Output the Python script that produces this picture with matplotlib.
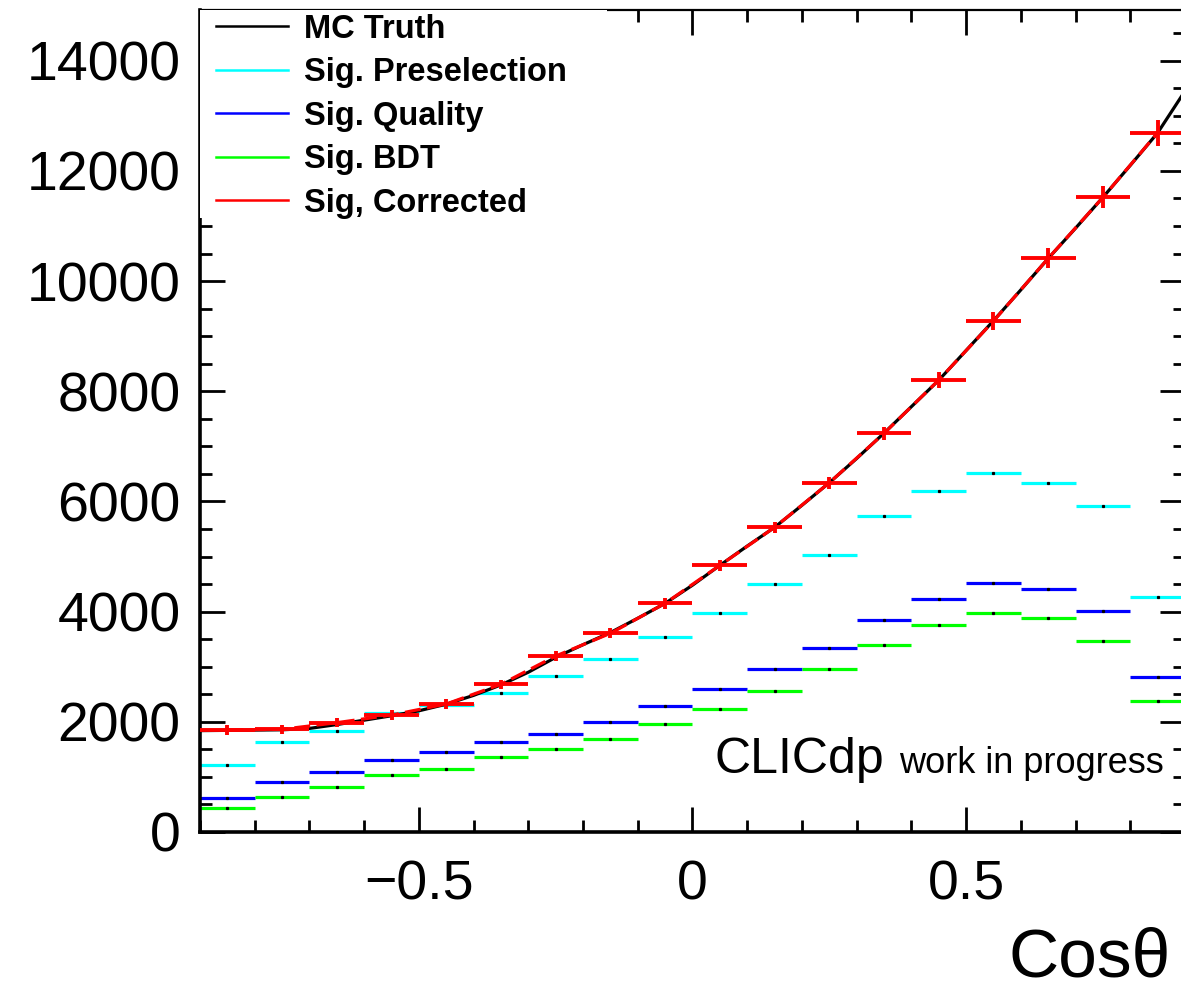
import matplotlib; matplotlib.use("Agg")
import matplotlib.pyplot as plt
from matplotlib.lines import Line2D
from matplotlib.patches import Rectangle
from matplotlib.ticker import MultipleLocator, FixedLocator, FixedFormatter

plt.rcParams["font.family"] = ["Liberation Sans", "DejaVu Sans"]

# cos(theta) binning: 18 bins of width 0.1 between -0.9 and 0.9
bin_lo = [-0.9, -0.8, -0.7, -0.6, -0.5, -0.4, -0.3, -0.2, -0.1,
          0.0, 0.1, 0.2, 0.3, 0.4, 0.5, 0.6, 0.7, 0.8]
bin_hi = [-0.8, -0.7, -0.6, -0.5, -0.4, -0.3, -0.2, -0.1, 0.0,
          0.1, 0.2, 0.3, 0.4, 0.5, 0.6, 0.7, 0.8, 0.9]
bin_mid = [-0.85, -0.75, -0.65, -0.55, -0.45, -0.35, -0.25, -0.15, -0.05,
           0.05, 0.15, 0.25, 0.35, 0.45, 0.55, 0.65, 0.75, 0.85]

sig_presel = [1216, 1633, 1838, 2154, 2310, 2528, 2831, 3134, 3544,
              3969, 4507, 5022, 5735, 6189, 6515, 6340, 5917, 4265]
sig_quality = [617, 913, 1094, 1307, 1457, 1633, 1784, 1996, 2292,
               2590, 2953, 3339, 3848, 4235, 4513, 4416, 4005, 2807]
sig_bdt = [436, 641, 822, 1034, 1149, 1361, 1506, 1688, 1966,
           2232, 2559, 2953, 3400, 3757, 3980, 3878, 3461, 2377]
sig_corrected = [1851, 1864, 1984, 2123, 2323, 2681, 3194, 3606, 4151,
                 4840, 5530, 6339, 7236, 8203, 9274, 10412, 11519, 12691]
sig_corrected_err = [90, 85, 85, 85, 85, 85, 90, 90, 95,
                     95, 100, 110, 120, 150, 160, 180, 200, 240]

# MC truth, fine sampling in steps of 0.05
truth_x = [-0.9, -0.85, -0.8, -0.75, -0.7, -0.65, -0.6, -0.55, -0.5, -0.45,
           -0.4, -0.35, -0.3, -0.25, -0.2, -0.15, -0.1, -0.05, 0.0, 0.05,
           0.1, 0.15, 0.2, 0.25, 0.3, 0.35, 0.4, 0.45, 0.5, 0.55,
           0.6, 0.65, 0.7, 0.75, 0.8, 0.85, 0.9]
truth_y = [1840, 1845, 1850, 1855, 1880, 1950, 2030, 2110, 2200, 2320,
           2480, 2670, 2900, 3170, 3400, 3620, 3880, 4150, 4480, 4840,
           5190, 5530, 5930, 6340, 6780, 7240, 7720, 8200, 8740, 9280,
           9840, 10410, 10960, 11520, 12100, 12690, 13450]

CYAN = "#00ffff"; BLUE = "#0000ff"; GREEN = "#00ff00"; RED = "#ff0000"

fig = plt.figure(figsize=(11.81, 9.93), dpi=100)
ax = fig.add_axes([200/1181, 161/993, 985/1181, 822/993])

for vals, col in [(sig_presel, CYAN), (sig_quality, BLUE), (sig_bdt, GREEN)]:
    ax.hlines(vals, bin_lo, bin_hi, colors=col, lw=2.3, zorder=2)
    ax.plot(bin_mid, vals, ls="none", marker="s", ms=1.3, color="black", zorder=3)

ax.plot(truth_x, truth_y, color="black", lw=2.3, zorder=4)
ax.plot(bin_mid, sig_corrected, color=RED, lw=2.3, ls=(0, (5, 2)), zorder=5)
ax.errorbar(bin_mid, sig_corrected, yerr=sig_corrected_err, xerr=0.05,
            fmt="none", ecolor=RED, elinewidth=2.8, capsize=0, zorder=6)

ax.set_xlim(-0.9, 0.9)
ax.set_ylim(0, 14920)
ax.xaxis.set_major_locator(FixedLocator([-0.5, 0, 0.5]))
ax.xaxis.set_major_formatter(FixedFormatter(["\u22120.5", "0", "0.5"]))
ax.xaxis.set_minor_locator(MultipleLocator(0.1))
ax.yaxis.set_major_locator(MultipleLocator(2000))
ax.yaxis.set_minor_locator(MultipleLocator(500))
ax.tick_params(which="both", direction="in", top=True, right=True, width=2.0)
ax.tick_params(which="major", length=18, labelsize=40)
ax.tick_params(which="minor", length=8.5)
ax.tick_params(axis="x", which="major", pad=20)
ax.tick_params(axis="y", which="major", pad=14)
for side in ["left", "bottom"]:
    ax.spines[side].set_linewidth(2.6)
for side in ["top", "right"]:
    ax.spines[side].set_linewidth(1.6)

ax.set_xlabel("Cos\u03b8", fontsize=50, ha="right")
ax.xaxis.set_label_coords(0.986, -0.115)

ax.text(0.978, 0.0717, "work in progress", transform=ax.transAxes,
        ha="right", va="baseline", fontsize=26)
ax.text(0.695, 0.0717, "CLICdp", transform=ax.transAxes,
        ha="right", va="baseline", fontsize=36)

# white legend pad sitting on the frame corner, hides the ticks beneath it
ax.add_patch(Rectangle((0, 0.747), 0.413, 0.253, transform=ax.transAxes,
                       facecolor="white", edgecolor="none", zorder=9))
handles = [Line2D([], [], color=c, lw=1.8) for c in ["black", CYAN, BLUE, GREEN, RED]]
labels = ["MC Truth", "Sig. Preselection", "Sig. Quality", "Sig. BDT", "Sig, Corrected"]
leg = ax.legend(handles, labels, loc="upper left", bbox_to_anchor=(0.009, 1.004),
                borderaxespad=0, frameon=False,
                prop={"weight": "bold", "size": 23.5}, handlelength=2.2,
                handletextpad=0.5, labelspacing=0.38, borderpad=0.22)
leg.set_zorder(10)

fig.savefig("out.png", dpi=100)
